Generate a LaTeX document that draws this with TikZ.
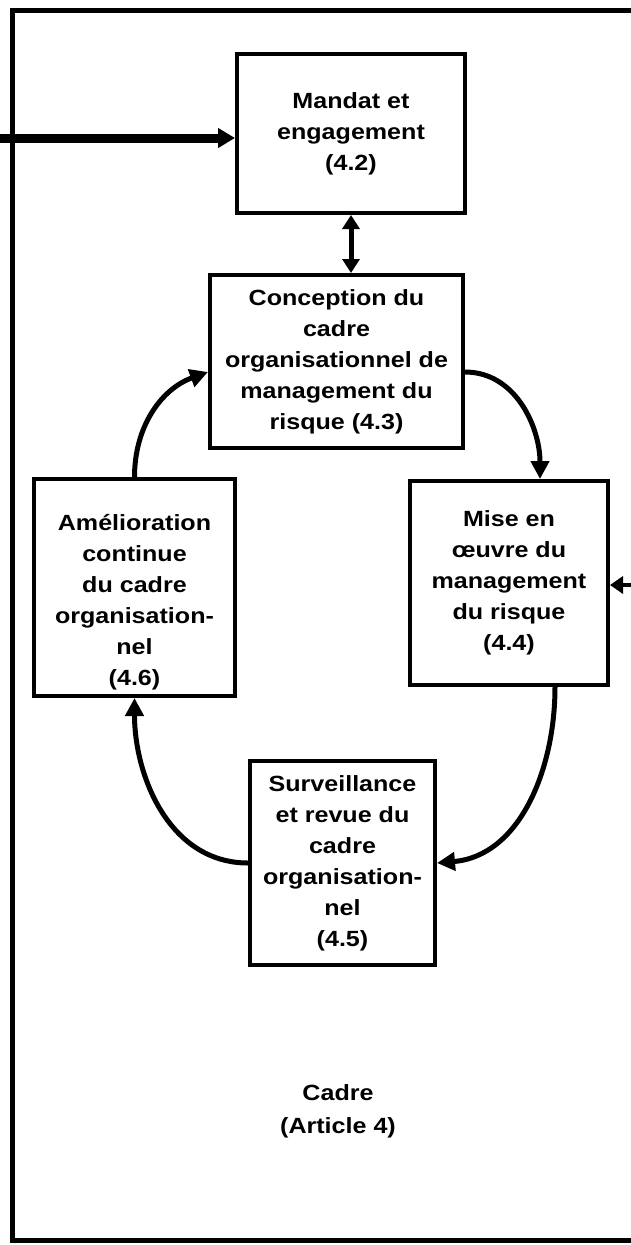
\documentclass[tikz,border=0pt]{standalone}
\usepackage{fontspec}
\setmainfont{Liberation Sans}[FakeStretch=1.14]
\usetikzlibrary{arrows.meta}

\begin{document}
\begin{tikzpicture}[x=1pt,y=1pt,
	every node/.style={draw, rectangle, line width=4pt, inner sep=0pt, align=center, font=\fontsize{22}{31}\selectfont\bfseries},
	cyclearrow/.style={line width=5pt, -{Triangle[length=18pt,width=18pt]}}]
	
	\useasboundingbox[fill=white] (0,0) rectangle (630,-1245);
	\draw[line width=4.5pt] (12.5,-10.5) rectangle (680,-1240.5);
	
	\node[minimum width=228pt, minimum height=159pt] (42) at (351,-133.5) {Mandat et\\engagement\\(4.2)};
	\node[minimum width=253pt, minimum height=173pt] (43) at (336.5,-361.5) {Conception du\\cadre\\organisationnel de\\management du\\risque (4.3)};
	\node[minimum width=198pt, minimum height=204pt] (44) at (509,-583) {Mise en\\œuvre du\\management\\du risque\\(4.4)};
	\node[minimum width=185pt, minimum height=204pt] (45) at (342.5,-863) {Surveillance\\et revue du\\cadre\\organisation-\\nel\\(4.5)};
	\node[minimum width=201pt, minimum height=217pt, text height=200pt] (46) at (134.5,-587.5) {Amélioration\\continue\\du cadre\\organisation-\\nel\\(4.6)};
	\node[draw=none, font=\fontsize{22}{33}\selectfont\bfseries] (cadre) at (338,-1111) {Cadre\\(Article 4)};
	
	\coordinate (in) at (-10,-138);
	\coordinate (out) at (650,-585);
	
	\path (in) edge[line width=9pt, -{Triangle[length=17pt,width=19pt]}] ([yshift=-4.5pt]42.west);
	\path (out) edge[line width=4pt, -{Triangle[length=13pt,width=17pt]}] ([yshift=-2pt]44.east);
	\path (42.south) edge[line width=5pt, {Triangle[length=14pt,width=17pt]}-{Triangle[length=14pt,width=17pt]}] (42.south |- 43.north);
	
	\path ([yshift=-10.5pt]43.east) edge[cyclearrow, out=0, in=90] ([xshift=31pt]44.north);
	\path ([xshift=46pt]44.south) edge[cyclearrow, out=-90, in=5] (45.east);
	\path (45.west) edge[cyclearrow, out=180, in=-90] (46.south);
	\path (46.north) edge[cyclearrow, out=90, in=200] ([yshift=-10.5pt]43.west);
	
\end{tikzpicture}
\end{document}
